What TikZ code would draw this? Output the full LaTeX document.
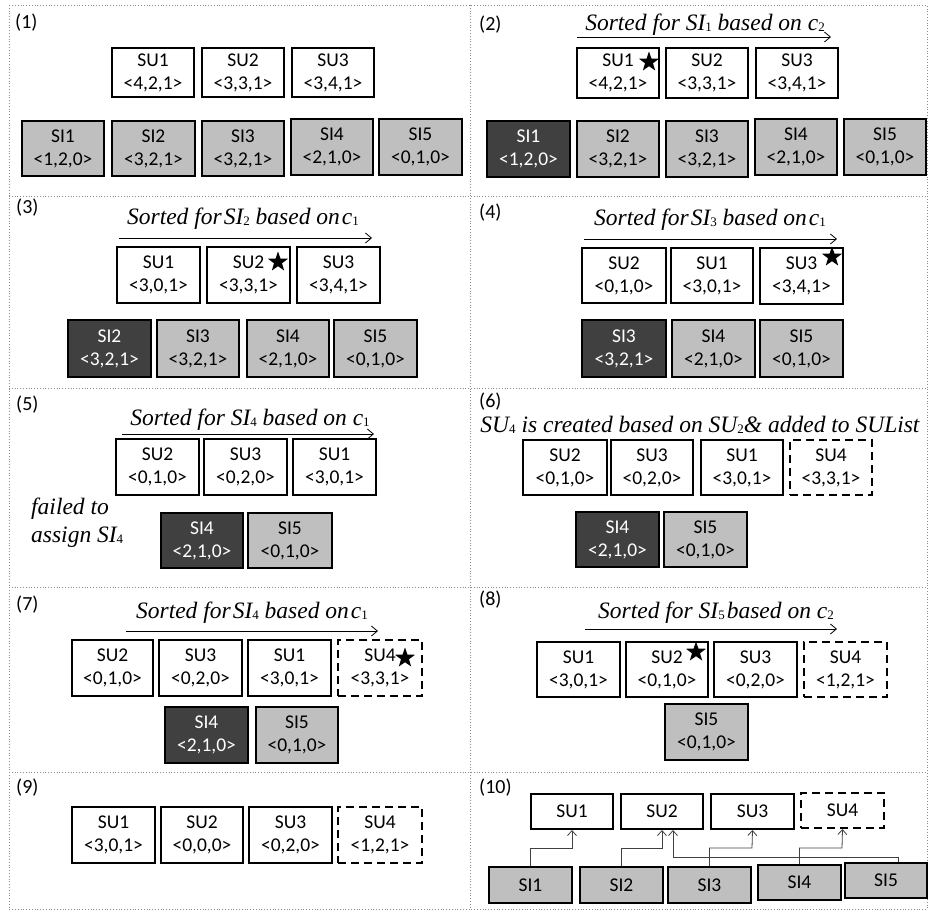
\documentclass[tikz,border=0pt]{standalone}
\usepackage{fontspec}
\setmainfont{Carlito}
\newfontfamily\tnr{Liberation Serif}
\usetikzlibrary{arrows.meta,shapes.geometric}
\definecolor{gri}{HTML}{BFBFBF}
\definecolor{dk}{HTML}{404040}
\definecolor{gridc}{HTML}{8C8C8C}
\newcommand\boxfont{\fontsize{19.5}{23}\selectfont}
\newcommand\hdrfont{\tnr\itshape\fontsize{23.5}{28}\selectfont}
\newcommand\sub[1]{\raisebox{-1pt}{\fontsize{13}{13}\selectfont\upshape #1}}
\newcommand\tsp{\hspace{2pt}}
\newcommand\bx[7]{\node[#6, minimum width={(#4-#2)*1pt}, minimum height={(#5-#3)*1pt}] (#1) at ({(#2+#4)/2},{(#3+#5)/2}) {#7};}
\tikzset{
  box/.style={draw=black, line width=2pt, inner sep=0pt, align=center, font=\boxfont},
  su/.style={box, fill=white},
  sud/.style={box, fill=white, dash pattern=on 8pt off 5pt},
  si/.style={box, fill=gri},
  sidk/.style={box, fill=dk, text=white},
  hdr/.style={font=\hdrfont, inner sep=0pt},
  lbl/.style={font=\fontsize{20}{24}\selectfont, inner sep=0pt, anchor=west},
  harrow/.style={line width=0.8pt, -{Straight Barb[length=6pt,width=10pt,line width=0.8pt]}},
  conn/.style={line width=0.8pt, draw=dk, -{Straight Barb[length=5pt,width=9pt,line width=0.8pt]}},
  starn/.style={star, star points=5, star point ratio=2.5, fill=black, minimum size=21pt, inner sep=0pt},
  gridl/.style={draw=gridc, line width=0.8pt, dotted}
}
\begin{document}
\begin{tikzpicture}[x=1pt,y=-1pt]
\useasboundingbox (0,0) rectangle (928,910);
% grid
\draw[gridl] (9,5) rectangle (927,909);
\draw[gridl] (470,5) -- (470,909);
\foreach \yy in {196,388,587,772} \draw[gridl] (9,\yy) -- (927,\yy);
% labels
\node[lbl] (l1) at (15,23) {(1)};
\node[lbl] (l2) at (479,25) {(2)};
\node[lbl] (l3) at (16,208) {(3)};
\node[lbl] (l4) at (479,213) {(4)};
\node[lbl] (l5) at (16,405) {(5)};
\node[lbl] (l6) at (479,402) {(6)};
\node[lbl] (l7) at (16,605) {(7)};
\node[lbl] (l8) at (479,600) {(8)};
\node[lbl] (l9) at (16,788) {(9)};
\node[lbl] (l10) at (479,788) {(10)};
% ---------- panel 1
\bx{p1u1}{112}{48}{194}{97}{su}{SU1\\<4,2,1>}
\bx{p1u2}{202}{48}{284}{97}{su}{SU2\\<3,3,1>}
\bx{p1u3}{292}{48}{374}{97}{su}{SU3\\<3,4,1>}
\bx{p1i1}{22}{121}{104}{176}{si}{SI1\\<1,2,0>}
\bx{p1i2}{112}{121}{195}{176}{si}{SI2\\<3,2,1>}
\bx{p1i3}{202}{121}{284}{176}{si}{SI3\\<3,2,1>}
\bx{p1i4}{291}{119}{373}{175}{si}{SI4\\<2,1,0>}
\bx{p1i5}{379}{119}{462}{175}{si}{SI5\\<0,1,0>}
% ---------- panel 2
\node[hdr] (h2) at (705,25) {Sorted for SI\sub{1} based on c\sub{2}};
\coordinate (a2s) at (577,37); \coordinate (a2e) at (831,37);
\draw[harrow] (a2s) -- (a2e);
\bx{p2u1}{577}{48}{659}{98}{su}{SU1\\<4,2,1>}
\bx{p2u2}{666}{48}{748}{98}{su}{SU2\\<3,3,1>}
\bx{p2u3}{756}{48}{838}{98}{su}{SU3\\<3,4,1>}
\bx{p2i1}{487}{121}{570}{177}{sidk}{SI1\\<1,2,0>}
\bx{p2i2}{577}{121}{659}{177}{si}{SI2\\<3,2,1>}
\bx{p2i3}{666}{121}{748}{177}{si}{SI3\\<3,2,1>}
\bx{p2i4}{755}{119}{837}{175}{si}{SI4\\<2,1,0>}
\bx{p2i5}{844}{119}{926}{175}{si}{SI5\\<0,1,0>}
\node[starn] (s2) at (649,62) {};
% ---------- panel 3
\node[hdr] (h3) at (243,219) {Sorted for\tsp SI\sub{2} based on\tsp c\sub{1}};
\coordinate (a3s) at (119,238); \coordinate (a3e) at (372,238);
\draw[harrow] (a3s) -- (a3e);
\bx{p3u1}{117}{247}{200}{303}{su}{SU1\\<3,0,1>}
\bx{p3u2}{207}{247}{290}{303}{su}{SU2\\<3,3,1>}
\bx{p3u3}{297}{247}{380}{303}{su}{SU3\\<3,4,1>}
\bx{p3i2}{68}{320}{151}{377}{sidk}{SI2\\<3,2,1>}
\bx{p3i3}{157}{320}{239}{377}{si}{SI3\\<3,2,1>}
\bx{p3i4}{247}{320}{329}{377}{si}{SI4\\<2,1,0>}
\bx{p3i5}{334}{320}{417}{377}{si}{SI5\\<0,1,0>}
\node[starn] (s3) at (278,262) {};
% ---------- panel 4
\node[hdr] (h4) at (710,220) {Sorted for\tsp SI\sub{3} based on\tsp c\sub{1}};
\coordinate (a4s) at (584,239); \coordinate (a4e) at (837,239);
\draw[harrow] (a4s) -- (a4e);
\bx{p4u2}{582}{248}{666}{303}{su}{SU2\\<0,1,0>}
\bx{p4u1}{671}{248}{753}{303}{su}{SU1\\<3,0,1>}
\bx{p4u3}{760}{248}{843}{304}{su}{SU3\\<3,4,1>}
\bx{p4i3}{582}{320}{666}{377}{sidk}{SI3\\<3,2,1>}
\bx{p4i4}{672}{320}{755}{377}{si}{SI4\\<2,1,0>}
\bx{p4i5}{760}{320}{843}{377}{si}{SI5\\<0,1,0>}
\node[starn] (s4) at (832,257) {};
% ---------- panel 5
\node[hdr] (h5) at (250,420) {Sorted for SI\sub{4} based on c\sub{1}};
\coordinate (a5s) at (122,434); \coordinate (a5e) at (374,434);
\draw[harrow] (a5s) -- (a5e);
\bx{p5u2}{116}{439}{199}{495}{su}{SU2\\<0,1,0>}
\bx{p5u3}{204}{439}{287}{495}{su}{SU3\\<0,2,0>}
\bx{p5u1}{293}{439}{376}{495}{su}{SU1\\<3,0,1>}
\node[hdr, anchor=west, align=left] (f5) at (31,523) {failed to\\assign SI\sub{4}};
\bx{p5i4}{161}{513}{243}{568}{sidk}{SI4\\<2,1,0>}
\bx{p5i5}{248}{513}{332}{568}{si}{SI5\\<0,1,0>}
% ---------- panel 6
\node[hdr] (h6) at (700,425) {SU\sub{4} is created based on SU\sub{2}\& added to SUList};
\bx{p6u2}{523}{440}{607}{495}{su}{SU2\\<0,1,0>}
\bx{p6u3}{611}{440}{693}{495}{su}{SU3\\<0,2,0>}
\bx{p6u1}{701}{440}{783}{495}{su}{SU1\\<3,0,1>}
\bx{p6u4}{790}{440}{872}{495}{sud}{SU4\\<3,3,1>}
\bx{p6i4}{576}{512}{659}{567}{sidk}{SI4\\<2,1,0>}
\bx{p6i5}{664}{512}{747}{567}{si}{SI5\\<0,1,0>}
% ---------- panel 7
\node[hdr] (h7) at (252,613) {Sorted for\tsp SI\sub{4} based on\tsp c\sub{1}};
\coordinate (a7s) at (126,631); \coordinate (a7e) at (378,631);
\draw[harrow] (a7s) -- (a7e);
\bx{p7u2}{72}{640}{153}{696}{su}{SU2\\<0,1,0>}
\bx{p7u3}{159}{640}{242}{696}{su}{SU3\\<0,2,0>}
\bx{p7u1}{248}{640}{331}{696}{su}{SU1\\<3,0,1>}
\bx{p7u4}{338}{640}{422}{696}{sud}{SU4\\<3,3,1>}
\bx{p7i4}{165}{707}{248}{763}{sidk}{SI4\\<2,1,0>}
\bx{p7i5}{256}{707}{338}{763}{si}{SI5\\<0,1,0>}
\node[starn] (s7) at (405,658) {};
% ---------- panel 8
\node[hdr] (h8) at (716,613) {Sorted for SI\sub{5}\tsp based on c\sub{2}};
\coordinate (a8s) at (585,629); \coordinate (a8e) at (837,629);
\draw[harrow] (a8s) -- (a8e);
\bx{p8u1}{537}{642}{620}{697}{su}{SU1\\<3,0,1>}
\bx{p8u2}{626}{642}{708}{697}{su}{SU2\\<0,1,0>}
\bx{p8u3}{714}{642}{797}{697}{su}{SU3\\<0,2,0>}
\bx{p8u4}{804}{642}{887}{697}{sud}{SU4\\<1,2,1>}
\bx{p8i5}{665}{704}{748}{760}{si}{SI5\\<0,1,0>}
\node[starn] (s8) at (696,652) {};
% ---------- panel 9
\bx{p9u1}{72}{807}{155}{863}{su}{SU1\\<3,0,1>}
\bx{p9u2}{161}{807}{243}{863}{su}{SU2\\<0,0,0>}
\bx{p9u3}{249}{807}{332}{863}{su}{SU3\\<0,2,0>}
\bx{p9u4}{338}{807}{422}{863}{sud}{SU4\\<1,2,1>}
% ---------- panel 10
\bx{p10u1}{531}{794}{613}{829}{su}{SU1}
\bx{p10u2}{621}{794}{703}{829}{su}{SU2}
\bx{p10u3}{711}{794}{794}{829}{su}{SU3}
\bx{p10u4}{801}{793}{884}{828}{sud}{SU4}
\bx{p10i1}{489}{867}{572}{903}{si}{SI1}
\bx{p10i2}{580}{867}{663}{903}{si}{SI2}
\bx{p10i3}{668}{867}{751}{903}{si}{SI3}
\bx{p10i4}{758}{865}{841}{900}{si}{SI4}
\bx{p10i5}{845}{863}{927}{898}{si}{SI5}
\draw[conn] (p10i1.north) |- (572,848) -- (p10u1.south);
\draw[conn] (p10i2.north) |- (662,848) -- (p10u2.south);
\draw[conn] ([xshift=12pt]p10i5.north) |- (673,857) -- ([xshift=11pt]p10u2.south);
\draw[conn] (p10i3.north) |- (752,848) -- (p10u3.south);
\draw[conn] (p10i4.north) |- (842,848) -- (p10u4.south);
\end{tikzpicture}
\end{document}
